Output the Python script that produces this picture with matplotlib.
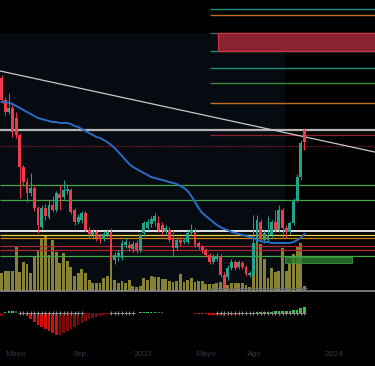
import matplotlib
matplotlib.use('Agg')
import matplotlib.pyplot as plt
import matplotlib.dates as mdates
from matplotlib.patches import Rectangle
import numpy as np
import pandas as pd

# velas semanales (precio en unidades arbitrarias, el eje de precios va oculto)
fechas = pd.date_range('2022-04-04', periods=84, freq='W-MON')
apertura = [222, 200, 188, 192, 182, 165, 133, 118, 107, 112,
            92, 73, 92, 83, 95, 90, 106, 103, 109, 110,
            90, 78, 80, 87, 70, 65, 68, 64, 61, 65,
            68, 40, 43, 42, 55, 55, 51, 57, 50, 67,
            72, 76, 79, 77, 75, 68, 70, 62, 52, 60,
            58, 58, 67, 68, 57, 53, 50, 45, 38, 41,
            44, 25, 23, 32, 38, 33, 37, 33, 25, 25,
            57, 78, 60, 60, 65, 78, 70, 90, 72, 68,
            77, 100, 123, 170]
cierre = [200, 188, 192, 168, 165, 133, 118, 107, 112, 92,
          75, 92, 84, 95, 90, 107, 102, 110, 111, 88,
          78, 83, 87, 70, 66, 68, 62, 61, 66, 68,
          40, 45, 47, 57, 58, 52, 56, 50, 65, 77,
          78, 81, 84, 70, 70, 72, 60, 52, 60, 57,
          60, 67, 70, 55, 53, 50, 45, 38, 43, 44,
          25, 16, 32, 38, 32, 38, 33, 26, 27, 57,
          80, 62, 67, 65, 78, 70, 90, 72, 68, 77,
          100, 123, 157, 158]
maximo = [225, 203, 207, 195, 188, 167, 135, 122, 127, 114,
          94, 95, 96, 100, 104, 109, 115, 120, 116, 112,
          92, 86, 89, 89, 73, 71, 70, 67, 69, 71,
          72, 48, 50, 60, 62, 59, 59, 60, 67, 79,
          81, 84, 87, 84, 78, 75, 73, 70, 63, 63,
          62, 70, 76, 72, 59, 55, 52, 47, 46, 47,
          46, 28, 35, 41, 40, 40, 39, 35, 29, 85,
          85, 81, 70, 84, 80, 90, 95, 92, 75, 79,
          102, 126, 160, 171]
minimo = [197, 185, 186, 163, 162, 102, 114, 98, 104, 89,
          67, 71, 80, 81, 88, 88, 90, 101, 106, 86,
          75, 76, 77, 68, 62, 62, 59, 57, 59, 63,
          37, 36, 39, 40, 52, 49, 48, 47, 48, 64,
          70, 73, 74, 68, 64, 65, 58, 43, 50, 54,
          56, 56, 65, 53, 51, 47, 43, 36, 36, 39,
          23, 12, 20, 30, 30, 31, 31, 24, 23, 23,
          54, 59, 57, 58, 63, 68, 68, 62, 62, 66,
          75, 98, 120, 150]
media = [198, 198, 197, 196, 194, 192, 190, 188, 186, 184,
         182, 181, 180, 179, 178, 178, 177, 177, 177, 176,
         174, 173, 171, 169, 167, 165, 163, 162, 160, 158,
         155, 152, 148, 144, 140, 136, 133, 131, 129, 127,
         125, 123, 122, 121, 120, 119, 118, 117, 116, 114,
         112, 109, 104, 98, 92, 87, 84, 81, 78, 75,
         73, 71, 70, 68, 67, 66, 65, 64, 63, 62,
         60, 59, 58, 58, 57, 57, 57, 57, 57, 57,
         58, 60, 62, 66]
volumen = [18, 20, 20, 20, 44, 19, 29, 27, 18, 35,
           41, 53, 56, 36, 51, 39, 28, 38, 30, 24,
           15, 18, 22, 18, 11, 8, 8, 8, 13, 15,
           36, 11, 8, 10, 8, 11, 5, 4, 5, 13,
           11, 15, 14, 14, 12, 12, 10, 9, 10, 17,
           9, 11, 13, 9, 10, 10, 7, 7, 7, 8,
           9, 9, 6, 8, 8, 8, 8, 6, 4, 40,
           70, 47, 32, 13, 23, 19, 20, 43, 20, 27,
           37, 44, 48, 5]
momento = [-3, 1, 2, 2.5, 2, 0.5, -1, -3, -6, -9,
           -12, -14, -16, -18, -20, -22, -21.5, -20, -18, -16,
           -14, -12, -10, -8, -6, -5, -4, -3, -2, -1,
           -0.5, -0.3, -0.2, 0.2, 0.3, 0.3, 0.4, 0.5, 0.6, 0.7,
           0.8, 0.9, 1, 0.8, 0.6, 0.5, 0.4, 0.3, 0.2, 0.2,
           0.1, -0.2, -0.4, -0.6, -0.8, -1, -1.3, -1.6, -2, -2.2,
           -2.4, -2.5, -2.3, -2, -1.8, -1.5, -1.2, -1, -0.7, 0.3,
           0.6, 0.8, 1, 1.2, 1.4, 1.6, 1.8, 2, 2.2, 2.4,
           2.8, 3.4, 5.2, 5.6]
# tramos de velas con cruces grises sobre la linea cero
tramos_cruz = [(5, 22), (30, 36), (59, 83)]

# niveles horizontales: precio, color, desde, hasta (None = todo el ancho), estilo, grosor
niveles = [
    (291, '#1f8d7c', '2023-05-08', None, '-', 1.0),
    (285, '#c06c1a', '2023-05-08', None, '-', 1.0),
    (267, '#5e5e5e', '2023-05-08', None, '-', 1.0),
    (249, '#1f8d7c', '2023-05-08', None, '-', 1.0),
    (232, '#1f8d7c', '2023-05-08', None, '-', 1.0),
    (217, '#3f8a38', '2023-05-08', None, '-', 1.0),
    (197, '#c06c1a', '2023-05-08', None, '-', 1.0),
    (170, '#b5b5b5', None, None, '-', 1.6),
    (165, '#8e1f2c', '2023-05-08', None, '-', 0.9),
    (154, '#8a1f28', None, None, (0, (1, 1)), 0.9),
    (115, '#45a845', None, None, '-', 0.9),
    (100, '#45a845', None, None, '-', 0.9),
    (69, '#e2e2e2', None, None, '-', 1.4),
    (65, '#e6d640', None, None, '-', 0.9),
    (62, '#d0851a', None, None, '-', 0.9),
    (54, '#b3262f', None, None, '-', 0.9),
    (50, '#b3262f', None, None, '-', 0.9),
    (44, '#45a845', None, None, '-', 0.9),
    (12, '#6c6c6c', '2023-05-08', '2023-11-10', '-', 0.8),
    (9, '#8a8a8a', None, None, '-', 1.2),
]
caja_roja = ('2023-05-24', 249, 267)
caja_verde = ('2023-09-29', '2024-02-06', 37, 43)
fondo = ('2023-09-29', 9, 267)
tendencia = [('2022-04-04', 228.7), ('2023-11-13', 162.4)]
etiquetas = ['Mayo', 'Sep', '2023', 'Mayo', 'Ago', '2024']
fechas_etiquetas = ['2022-05-01', '2022-09-01', '2023-01-01',
                    '2023-05-01', '2023-08-01', '2024-01-01']

VERDE = '#22a48c'
ROJO = '#f03a4a'


def fecha(s):
    return mdates.date2num(pd.Timestamp(s))


x = mdates.date2num(fechas.to_pydatetime())
o = np.array(apertura, float)
c = np.array(cierre, float)
izq = x[0] - 2.9
der = izq + 719.2

fig = plt.figure(figsize=(3.75, 3.66), dpi=100, facecolor='black')
ax_v = fig.add_axes([0, 74 / 366, 1, 292 / 366], facecolor='black')
ax = ax_v.twinx()
ax_o = fig.add_axes([0, 21 / 366, 1, 52 / 366], facecolor='black')

# fondo azul oscuro de la zona de precios
ax_v.add_patch(Rectangle((izq, fondo[1]), fecha(fondo[0]) - izq, fondo[2] - fondo[1],
                         transform=ax.transData, color='#060b11', zorder=0, lw=0))

# volumen
ax_v.bar(x, volumen, width=5.5, color='#878234', zorder=1)

# niveles
for precio, color, desde, hasta, estilo, grosor in niveles:
    x0 = izq if desde is None else fecha(desde)
    x1 = der if hasta is None else fecha(hasta)
    ax.hlines(precio, x0, x1, colors=color, linestyles=estilo, lw=grosor, zorder=1)

ax.add_patch(Rectangle((fecha(caja_roja[0]), caja_roja[1]), der - fecha(caja_roja[0]) + 5,
                       caja_roja[2] - caja_roja[1], fc='#8b2230', ec='#cf3344', lw=0.9, zorder=2))
ax.add_patch(Rectangle((fecha(caja_verde[0]), caja_verde[2]), fecha(caja_verde[1]) - fecha(caja_verde[0]),
                       caja_verde[3] - caja_verde[2], fc='#2f7d32', ec='#3f9c45', lw=0.8,
                       alpha=0.8, zorder=2))

# linea de tendencia
(d0, p0), (d1, p1) = tendencia
ax.axline((fecha(d0), p0), (fecha(d1), p1), color='#c9c9c9', lw=0.9, zorder=3)

# velas
colores = np.where(c >= o, VERDE, ROJO)
ax.vlines(x, minimo, maximo, colors=colores, lw=0.7, zorder=4)
ax.bar(x, np.maximum(np.abs(c - o), 0.8), bottom=np.minimum(o, c), width=5.5,
       color=colores, zorder=5)

# media movil
ax.plot(x, media, color='#2a6cc4', lw=1.4, zorder=6)

ax.set_ylim(8, 300)
ax_v.set_ylim(-1, 291)
ax_v.set_xlim(izq, der)

# oscilador de momento
m = np.array(momento)
prev = np.concatenate([[m[0]], m[:-1]])
col_o = []
for v, p in zip(m, prev):
    if v >= 0:
        col_o.append('#33c24a' if v >= p else '#1e6b2b')
    else:
        col_o.append('#d40d0d' if v < p else '#7d0a0a')
ax_o.bar(x, m, width=5, color=col_o)
for a, b in tramos_cruz:
    ax_o.plot(x[a:b + 1], np.zeros(b - a + 1), '+', color='#8c8c8c', ms=3, mew=0.7)
ax_o.set_ylim(-32, 20)
ax_o.set_xlim(izq, der)

ax_o.set_xticks([fecha(f) for f in fechas_etiquetas])
ax_o.set_xticklabels(etiquetas, color='#2b3647', fontsize=6, family=['Roboto', 'DejaVu Sans'])
ax_o.tick_params(axis='x', length=0, pad=4.5)
ax_o.set_yticks([])

for a in (ax, ax_v, ax_o):
    for s in a.spines.values():
        s.set_visible(False)
ax.set_yticks([])
ax_v.set_yticks([])
ax_v.set_xticks([])

fig.savefig('out.png', dpi=100, facecolor='black')
